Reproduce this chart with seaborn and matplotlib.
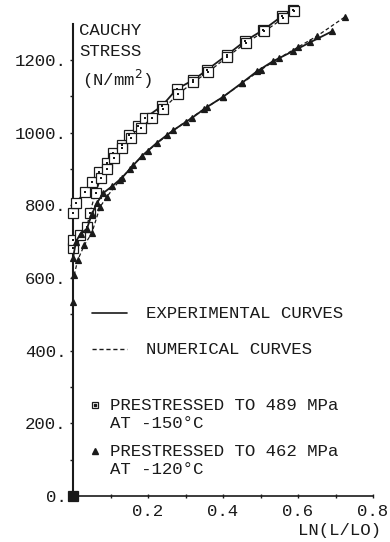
import numpy as np
import pandas as pd
import matplotlib
matplotlib.use("Agg")
import matplotlib.pyplot as plt
from matplotlib.lines import Line2D
import seaborn as sns

# ---------------- data ----------------
sq_exp_x = [0, 0, 0.008, 0.032, 0.051, 0.069, 0.091, 0.107, 0.131, 0.149, 0.173, 0.192,
            0.237, 0.277, 0.32, 0.357, 0.41, 0.459, 0.507, 0.557, 0.587]
sq_exp_y = [0, 778, 806, 837, 864, 892, 916, 944, 966, 993, 1018, 1040,
            1073, 1120, 1144, 1172, 1213, 1252, 1282, 1320, 1337]

sq_num_x = [0, 0, 0.019, 0.037, 0.045, 0.06, 0.075, 0.09, 0.11, 0.13, 0.155, 0.18, 0.21,
            0.24, 0.28, 0.32, 0.36, 0.41, 0.46, 0.51, 0.56, 0.59]
sq_num_y = [681, 704, 718, 740, 778, 835, 875, 900, 930, 958, 985, 1012, 1040,
            1065, 1105, 1138, 1166, 1207, 1246, 1278, 1314, 1335]

tr_exp_x = [0, 0, 0, 0.008, 0.02, 0.037, 0.05, 0.064, 0.08, 0.104, 0.131, 0.152, 0.184,
            0.224, 0.267, 0.317, 0.357, 0.4, 0.451, 0.49, 0.533, 0.587, 0.632, 0.69]
tr_exp_y = [0, 534, 655, 700, 722, 735, 775, 806, 833, 852, 876, 900, 936,
            972, 1006, 1040, 1070, 1098, 1137, 1168, 1196, 1224, 1248, 1278]

tr_num_x = [0.003, 0.013, 0.03, 0.05, 0.072, 0.09, 0.125, 0.16, 0.2, 0.25, 0.3, 0.35,
            0.4, 0.45, 0.5, 0.55, 0.6, 0.65, 0.725]
tr_num_y = [608, 650, 690, 723, 795, 823, 869, 910, 950, 992, 1030, 1065,
            1098, 1135, 1172, 1205, 1235, 1265, 1318]

y_ticks = [0, 200, 400, 600, 800, 1000, 1200]
y_labels = ["0.", "200.", "400.", "600.", "800.", "1000.", "1200."]
x_ticks = [0.2, 0.4, 0.6, 0.8]
x_labels = ["0.2", "0.4", "0.6", "0.8"]

# ---------------- style ----------------
sns.set_style("white")
plt.rcParams['font.family'] = ['Liberation Mono', 'DejaVu Sans Mono']
FS = 12.5
INK = '#1a1a1a'

fig = plt.figure(figsize=(3.9, 5.42), dpi=100)
ax = fig.add_axes([73/390, 46/542, 300/390, 472.5/542])

def draw(xs, ys, ls, marker, mfc, ms, lw):
    df = pd.DataFrame({"x": xs, "y": ys})
    sns.lineplot(data=df, x="x", y="y", ax=ax, sort=False, estimator=None,
                 color=INK, linestyle=ls, linewidth=lw, marker=marker,
                 markersize=ms, markerfacecolor=mfc, markeredgecolor=INK,
                 markeredgewidth=0.9, clip_on=False, zorder=3)

draw(sq_exp_x, sq_exp_y, '-', 's', 'white', 6.5, 1.3)
draw(sq_num_x, sq_num_y, (0, (3, 2)), 's', 'white', 6.5, 0.9)
# inner dot of the squares
sns.scatterplot(x=sq_exp_x + sq_num_x, y=sq_exp_y + sq_num_y, ax=ax, marker='s',
                s=3, color=INK, linewidth=0, clip_on=False, zorder=4)
draw(tr_exp_x, tr_exp_y, '-', '^', INK, 5, 1.3)
draw(tr_num_x, tr_num_y, (0, (3, 2)), '^', INK, 5, 0.9)
# origin marker
ax.plot([0], [0], marker='s', ms=6, color=INK, clip_on=False, zorder=5)

ax.set_xlim(0, 0.8)
ax.set_ylim(0, 1300)
ax.set_xlabel("")
ax.set_ylabel("")
for s in ['top', 'right']:
    ax.spines[s].set_visible(False)
ax.spines['left'].set_linewidth(1.5)
ax.spines['bottom'].set_linewidth(1.2)
ax.spines['left'].set_color(INK)
ax.spines['bottom'].set_color(INK)

ax.set_yticks(y_ticks)
ax.set_yticklabels(y_labels, fontsize=FS, color=INK)
ax.set_yticks(np.arange(100, 1300, 200), minor=True)
ax.set_xticks(x_ticks)
ax.set_xticklabels(x_labels, fontsize=FS, color=INK)
ax.set_xticks([0.1, 0.3, 0.5, 0.7], minor=True)
ax.tick_params(axis='y', which='both', direction='out', length=2.5, width=1, pad=2, left=True, colors=INK)
ax.tick_params(axis='x', which='both', direction='inout', length=3, width=1, pad=4, bottom=True, colors=INK)

# axis titles
ax.text(0.017, 1280, "CAUCHY", fontsize=FS, color=INK, va='center', ha='left')
ax.text(0.017, 1222, "STRESS", fontsize=FS, color=INK, va='center', ha='left')
ax.text(0.025, 1145, "(N/mm$^{2}$)", fontsize=FS, color=INK, va='center', ha='left')
fig.text(381/390, 1 - 531/542, "LN(L/LO)", fontsize=FS, color=INK, va='center', ha='right')

# legend
yl1, yl2 = 1 - 313/542, 1 - 349/542
fig.add_artist(Line2D([92/390, 127/390], [yl1, yl1], color=INK, lw=1.2))
fig.add_artist(Line2D([92/390, 127/390], [yl2, yl2], color=INK, lw=1.0, linestyle=(0, (3, 2))))
fig.text(146/390, yl1, "EXPERIMENTAL CURVES", fontsize=FS, color=INK, va='center')
fig.text(146/390, yl2, "NUMERICAL CURVES", fontsize=FS, color=INK, va='center')

fig.add_artist(Line2D([95/390], [1 - 405/542], marker='s', ms=5, mfc='white', mec=INK, mew=0.9, lw=0))
fig.add_artist(Line2D([95/390], [1 - 405/542], marker='s', ms=1.5, color=INK, lw=0))
fig.text(110/390, 1 - 405/542, "PRESTRESSED TO 489 MPa", fontsize=FS, color=INK, va='center')
fig.text(110/390, 1 - 423/542, "AT -150\u00b0C", fontsize=FS, color=INK, va='center')
fig.add_artist(Line2D([95/390], [1 - 451/542], marker='^', ms=5, color=INK, lw=0))
fig.text(110/390, 1 - 451/542, "PRESTRESSED TO 462 MPa", fontsize=FS, color=INK, va='center')
fig.text(110/390, 1 - 470/542, "AT -120\u00b0C", fontsize=FS, color=INK, va='center')

fig.savefig("out.png", dpi=100, facecolor='white')
